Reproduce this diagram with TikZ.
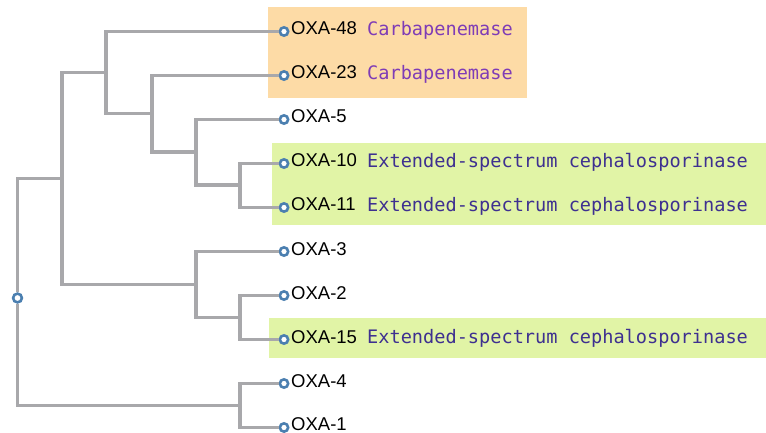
\documentclass[tikz,border=0pt]{standalone}
\usepackage{fontspec}
\setmainfont{Liberation Sans}
\newfontfamily\annofont{DejaVu Sans Mono}
\definecolor{branchc}{HTML}{A8A8AB}
\definecolor{leafc}{HTML}{4B7FB0}
\definecolor{orangebg}{HTML}{FDDBA6}
\definecolor{greenbg}{HTML}{E1F4A6}
\definecolor{carbac}{HTML}{7F3CB6}
\definecolor{extc}{HTML}{3E3090}
\tikzset{
  branch/.style={draw=branchc, line width=3.2pt},
  leafdot/.style={circle, draw=leafc, line width=2.6pt, fill=white, inner sep=0pt, minimum size=8.3pt},
  leaflabel/.style={anchor=base west, inner sep=0pt, font=\fontsize{18.5}{20}\selectfont, text=black},
  anno/.style={anchor=base west, inner sep=0pt, font=\annofont\fontsize{18.6}{20}\selectfont},
}
\begin{document}
\begin{tikzpicture}[x=1pt, y=-1pt]
\useasboundingbox (0,0) rectangle (766,433);
% highlight boxes
\fill[orangebg] (268,7) rectangle (527,98);
\fill[greenbg] (272,143) rectangle (766,224.5);
\fill[greenbg] (269,318) rectangle (766,358);
% internal nodes
\coordinate (A) at (62,178.5);
\coordinate (B) at (106,72.5);
\coordinate (C) at (152,113.5);
\coordinate (D) at (196,152);
\coordinate (E) at (240,185);
\coordinate (F) at (196,284.5);
\coordinate (G) at (240,317.5);
\coordinate (H) at (240,405.5);
% leaves
\node[leafdot] (l48) at (284,31.5) {};
\node[leafdot] (l23) at (284,75.5) {};
\node[leafdot] (l5)  at (284,119.5) {};
\node[leafdot] (l10) at (284,163.5) {};
\node[leafdot] (l11) at (284,207.5) {};
\node[leafdot] (l3)  at (284,251.5) {};
\node[leafdot] (l2)  at (284,295.5) {};
\node[leafdot] (l15) at (284,339.5) {};
\node[leafdot] (l4)  at (284,383.5) {};
\node[leafdot] (l1)  at (284,427.5) {};
% root
\node[leafdot, minimum size=8.8pt] (root) at (17.5,298) {};
% branches
\draw[branch] (root) |- (A);
\draw[branch] (root) |- (H);
\draw[branch] (A) |- (B);
\draw[branch] (A) |- (F);
\draw[branch] (B) |- (l48);
\draw[branch] (B) |- (C);
\draw[branch] (C) |- (l23);
\draw[branch] (C) |- (D);
\draw[branch] (D) |- (l5);
\draw[branch] (D) |- (E);
\draw[branch] (E) |- (l10);
\draw[branch] (E) |- (l11);
\draw[branch] (F) |- (l3);
\draw[branch] (F) |- (G);
\draw[branch] (G) |- (l2);
\draw[branch] (G) |- (l15);
\draw[branch] (H) |- (l4);
\draw[branch] (H) |- (l1);
% labels
\node[leaflabel] (t48) at (291,35) {OXA-48};
\node[leaflabel] (t23) at (291,79) {OXA-23};
\node[leaflabel] (t5)  at (291,123) {OXA-5};
\node[leaflabel] (t10) at (291,167) {OXA-10};
\node[leaflabel] (t11) at (291,211) {OXA-11};
\node[leaflabel] (t3)  at (291,255) {OXA-3};
\node[leaflabel] (t2)  at (291,299) {OXA-2};
\node[leaflabel] (t15) at (291,343) {OXA-15};
\node[leaflabel] (t4)  at (291,387) {OXA-4};
\node[leaflabel] (t1)  at (291,430.5) {OXA-1};
% annotations
\node[anno, text=carbac] (a48) at (367,35.5) {Carbapenemase};
\node[anno, text=carbac] (a23) at (367,79.5) {Carbapenemase};
\node[anno, text=extc] (a10) at (367,167.5) {Extended-spectrum cephalosporinase};
\node[anno, text=extc] (a11) at (367,211.5) {Extended-spectrum cephalosporinase};
\node[anno, text=extc] (a15) at (367,343.5) {Extended-spectrum cephalosporinase};
\end{tikzpicture}
\end{document}
